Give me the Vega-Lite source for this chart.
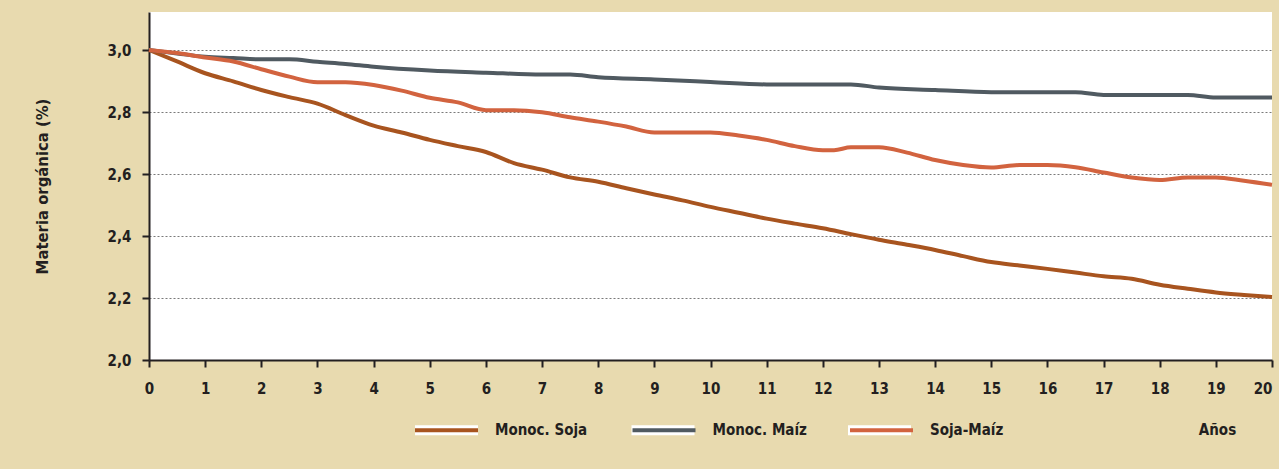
{
  "$schema": "https://vega.github.io/schema/vega-lite/v6.json",
  "autosize": {"type": "none"},
  "width": 1123,
  "height": 348,
  "padding": {"left": 149, "top": 12, "right": 7, "bottom": 109},
  "background": "#E8DAAF",
  "config": {
    "font": "DejaVu Sans Condensed",
    "view": {"fill": "white", "stroke": null},
    "axis": {
      "labelFont": "DejaVu Sans Condensed",
      "labelFontWeight": "bold",
      "labelFontSize": 15,
      "labelColor": "#231F20",
      "titleFont": "DejaVu Sans Condensed",
      "titleFontWeight": "bold",
      "titleColor": "#231F20",
      "domainColor": "#231F20",
      "domainWidth": 2,
      "tickColor": "#231F20",
      "tickWidth": 2,
      "tickSize": 7
    },
    "legend": {
      "labelFont": "DejaVu Sans Condensed",
      "labelFontWeight": "bold",
      "labelFontSize": 15,
      "labelColor": "#231F20"
    }
  },
  "data": {
    "values": [
      {"anio": 0, "serie": "Monoc. Soja", "mo": 3.0},
      {"anio": 0.5, "serie": "Monoc. Soja", "mo": 2.963},
      {"anio": 1, "serie": "Monoc. Soja", "mo": 2.925},
      {"anio": 1.5, "serie": "Monoc. Soja", "mo": 2.899},
      {"anio": 2, "serie": "Monoc. Soja", "mo": 2.871},
      {"anio": 2.5, "serie": "Monoc. Soja", "mo": 2.848},
      {"anio": 3, "serie": "Monoc. Soja", "mo": 2.827},
      {"anio": 3.5, "serie": "Monoc. Soja", "mo": 2.79},
      {"anio": 4, "serie": "Monoc. Soja", "mo": 2.756},
      {"anio": 4.5, "serie": "Monoc. Soja", "mo": 2.734},
      {"anio": 5, "serie": "Monoc. Soja", "mo": 2.71},
      {"anio": 5.5, "serie": "Monoc. Soja", "mo": 2.69},
      {"anio": 6, "serie": "Monoc. Soja", "mo": 2.671},
      {"anio": 6.5, "serie": "Monoc. Soja", "mo": 2.635},
      {"anio": 7, "serie": "Monoc. Soja", "mo": 2.614},
      {"anio": 7.5, "serie": "Monoc. Soja", "mo": 2.589},
      {"anio": 8, "serie": "Monoc. Soja", "mo": 2.575},
      {"anio": 8.5, "serie": "Monoc. Soja", "mo": 2.554},
      {"anio": 9, "serie": "Monoc. Soja", "mo": 2.534},
      {"anio": 9.5, "serie": "Monoc. Soja", "mo": 2.515},
      {"anio": 10, "serie": "Monoc. Soja", "mo": 2.494},
      {"anio": 10.5, "serie": "Monoc. Soja", "mo": 2.475},
      {"anio": 11, "serie": "Monoc. Soja", "mo": 2.456},
      {"anio": 11.5, "serie": "Monoc. Soja", "mo": 2.44},
      {"anio": 12, "serie": "Monoc. Soja", "mo": 2.425},
      {"anio": 12.5, "serie": "Monoc. Soja", "mo": 2.406},
      {"anio": 13, "serie": "Monoc. Soja", "mo": 2.388},
      {"anio": 13.5, "serie": "Monoc. Soja", "mo": 2.372},
      {"anio": 14, "serie": "Monoc. Soja", "mo": 2.355},
      {"anio": 14.5, "serie": "Monoc. Soja", "mo": 2.335},
      {"anio": 15, "serie": "Monoc. Soja", "mo": 2.316},
      {"anio": 15.5, "serie": "Monoc. Soja", "mo": 2.305},
      {"anio": 16, "serie": "Monoc. Soja", "mo": 2.294},
      {"anio": 16.5, "serie": "Monoc. Soja", "mo": 2.282},
      {"anio": 17, "serie": "Monoc. Soja", "mo": 2.27},
      {"anio": 17.5, "serie": "Monoc. Soja", "mo": 2.262},
      {"anio": 18, "serie": "Monoc. Soja", "mo": 2.243},
      {"anio": 18.5, "serie": "Monoc. Soja", "mo": 2.23},
      {"anio": 19, "serie": "Monoc. Soja", "mo": 2.218},
      {"anio": 19.5, "serie": "Monoc. Soja", "mo": 2.21},
      {"anio": 20, "serie": "Monoc. Soja", "mo": 2.203},

      {"anio": 0, "serie": "Monoc. Maíz", "mo": 3.0},
      {"anio": 0.5, "serie": "Monoc. Maíz", "mo": 2.989},
      {"anio": 1, "serie": "Monoc. Maíz", "mo": 2.978},
      {"anio": 1.5, "serie": "Monoc. Maíz", "mo": 2.974},
      {"anio": 2, "serie": "Monoc. Maíz", "mo": 2.97},
      {"anio": 2.5, "serie": "Monoc. Maíz", "mo": 2.97},
      {"anio": 3, "serie": "Monoc. Maíz", "mo": 2.962},
      {"anio": 3.5, "serie": "Monoc. Maíz", "mo": 2.955},
      {"anio": 4, "serie": "Monoc. Maíz", "mo": 2.946},
      {"anio": 5, "serie": "Monoc. Maíz", "mo": 2.934},
      {"anio": 6, "serie": "Monoc. Maíz", "mo": 2.927},
      {"anio": 7, "serie": "Monoc. Maíz", "mo": 2.921},
      {"anio": 7.5, "serie": "Monoc. Maíz", "mo": 2.921},
      {"anio": 8, "serie": "Monoc. Maíz", "mo": 2.912},
      {"anio": 9, "serie": "Monoc. Maíz", "mo": 2.905},
      {"anio": 10, "serie": "Monoc. Maíz", "mo": 2.897},
      {"anio": 11, "serie": "Monoc. Maíz", "mo": 2.889},
      {"anio": 12, "serie": "Monoc. Maíz", "mo": 2.889},
      {"anio": 12.5, "serie": "Monoc. Maíz", "mo": 2.889},
      {"anio": 13, "serie": "Monoc. Maíz", "mo": 2.879},
      {"anio": 14, "serie": "Monoc. Maíz", "mo": 2.871},
      {"anio": 15, "serie": "Monoc. Maíz", "mo": 2.864},
      {"anio": 16, "serie": "Monoc. Maíz", "mo": 2.864},
      {"anio": 16.5, "serie": "Monoc. Maíz", "mo": 2.864},
      {"anio": 17, "serie": "Monoc. Maíz", "mo": 2.855},
      {"anio": 18, "serie": "Monoc. Maíz", "mo": 2.855},
      {"anio": 18.5, "serie": "Monoc. Maíz", "mo": 2.855},
      {"anio": 19, "serie": "Monoc. Maíz", "mo": 2.847},
      {"anio": 20, "serie": "Monoc. Maíz", "mo": 2.847},

      {"anio": 0, "serie": "Soja-Maíz", "mo": 3.0},
      {"anio": 0.5, "serie": "Soja-Maíz", "mo": 2.99},
      {"anio": 1, "serie": "Soja-Maíz", "mo": 2.976},
      {"anio": 1.5, "serie": "Soja-Maíz", "mo": 2.963},
      {"anio": 2, "serie": "Soja-Maíz", "mo": 2.938},
      {"anio": 2.5, "serie": "Soja-Maíz", "mo": 2.914},
      {"anio": 3, "serie": "Soja-Maíz", "mo": 2.896},
      {"anio": 3.5, "serie": "Soja-Maíz", "mo": 2.896},
      {"anio": 4, "serie": "Soja-Maíz", "mo": 2.887},
      {"anio": 4.5, "serie": "Soja-Maíz", "mo": 2.869},
      {"anio": 5, "serie": "Soja-Maíz", "mo": 2.846},
      {"anio": 5.5, "serie": "Soja-Maíz", "mo": 2.831},
      {"anio": 6, "serie": "Soja-Maíz", "mo": 2.806},
      {"anio": 6.5, "serie": "Soja-Maíz", "mo": 2.806},
      {"anio": 7, "serie": "Soja-Maíz", "mo": 2.799},
      {"anio": 7.5, "serie": "Soja-Maíz", "mo": 2.783},
      {"anio": 8, "serie": "Soja-Maíz", "mo": 2.769},
      {"anio": 8.5, "serie": "Soja-Maíz", "mo": 2.753},
      {"anio": 9, "serie": "Soja-Maíz", "mo": 2.734},
      {"anio": 9.5, "serie": "Soja-Maíz", "mo": 2.734},
      {"anio": 10, "serie": "Soja-Maíz", "mo": 2.734},
      {"anio": 10.5, "serie": "Soja-Maíz", "mo": 2.724},
      {"anio": 11, "serie": "Soja-Maíz", "mo": 2.71},
      {"anio": 11.5, "serie": "Soja-Maíz", "mo": 2.69},
      {"anio": 12, "serie": "Soja-Maíz", "mo": 2.677},
      {"anio": 12.2, "serie": "Soja-Maíz", "mo": 2.677},
      {"anio": 12.5, "serie": "Soja-Maíz", "mo": 2.686},
      {"anio": 13, "serie": "Soja-Maíz", "mo": 2.686},
      {"anio": 13.5, "serie": "Soja-Maíz", "mo": 2.669},
      {"anio": 14, "serie": "Soja-Maíz", "mo": 2.645},
      {"anio": 14.5, "serie": "Soja-Maíz", "mo": 2.629},
      {"anio": 15, "serie": "Soja-Maíz", "mo": 2.621},
      {"anio": 15.5, "serie": "Soja-Maíz", "mo": 2.629},
      {"anio": 16, "serie": "Soja-Maíz", "mo": 2.629},
      {"anio": 16.5, "serie": "Soja-Maíz", "mo": 2.622},
      {"anio": 17, "serie": "Soja-Maíz", "mo": 2.605},
      {"anio": 17.5, "serie": "Soja-Maíz", "mo": 2.589},
      {"anio": 18, "serie": "Soja-Maíz", "mo": 2.581},
      {"anio": 18.5, "serie": "Soja-Maíz", "mo": 2.589},
      {"anio": 19, "serie": "Soja-Maíz", "mo": 2.589},
      {"anio": 19.5, "serie": "Soja-Maíz", "mo": 2.578},
      {"anio": 20, "serie": "Soja-Maíz", "mo": 2.565}
    ]
  },
  "encoding": {
    "x": {
      "field": "anio",
      "type": "quantitative",
      "scale": {"domain": [0, 20], "nice": false, "zero": false},
      "axis": {
        "title": "Años",
        "titleFontSize": 15,
        "titleX": 1068,
        "titleY": 69,
        "titleAlign": "center",
        "titleBaseline": "middle",
        "titleAnchor": null,
        "values": [0, 1, 2, 3, 4, 5, 6, 7, 8, 9, 10, 11, 12, 13, 14, 15, 16, 17, 18, 19, 20],
        "format": "d",
        "labelPadding": 14,
        "labelAlign": {"condition": {"test": "datum.value == 20", "value": "right"}, "value": "center"},
        "labelDx": {"condition": {"test": "datum.value == 20", "value": -3}, "value": 0},
        "labelBound": false,
        "labelOverlap": false,
        "grid": false
      }
    },
    "y": {
      "field": "mo",
      "type": "quantitative",
      "scale": {"domain": [2.0, 3.1226], "nice": false, "zero": false},
      "axis": {
        "title": "Materia orgánica (%)",
        "titleFontSize": 16.5,
        "titleAngle": -90,
        "titleX": -107,
        "titleY": 174,
        "titleAlign": "center",
        "titleBaseline": "middle",
        "titleAnchor": null,
        "values": [2.0, 2.2, 2.4, 2.6, 2.8, 3.0],
        "labelExpr": "replace(format(datum.value, '.1f'), '.', ',')",
        "labelPadding": 11,
        "grid": true,
        "gridColor": "#7A7A7A",
        "gridDash": [2, 2],
        "gridWidth": 1.2
      }
    }
  },
  "layer": [
    {
      "transform": [{"filter": "datum.anio < 0"}],
      "mark": {"type": "point", "filled": true, "opacity": 1},
      "encoding": {
        "fill": {
          "field": "serie",
          "type": "nominal",
          "scale": {
            "domain": ["Monoc. Soja", "Monoc. Maíz", "Soja-Maíz"],
            "range": ["white", "white", "white"]
          },
          "legend": {
            "title": null,
            "orient": "none",
            "direction": "horizontal",
            "legendX": 264,
            "legendY": 384.5,
            "padding": 0,
            "gridAlign": "all",
            "symbolType": "M-1,-0.1587H1V0.1587H-1Z",
            "symbolSize": 3969,
            "symbolStrokeColor": "transparent",
            "symbolStrokeWidth": 4,
            "symbolOpacity": 1,
            "labelOffset": 15,
            "labelExpr": "''",
            "columnPadding": 128.5
          }
        }
      }
    },
    {
      "mark": {"type": "line", "strokeWidth": 4, "interpolate": "monotone", "clip": false},
      "encoding": {
        "stroke": {
          "field": "serie",
          "type": "nominal",
          "sort": null,
          "scale": {
            "range": ["#A8541F", "#505A61", "#D2633F"]
          },
          "legend": {
            "title": null,
            "orient": "none",
            "direction": "horizontal",
            "legendX": 264,
            "legendY": 384.5,
            "padding": 0,
            "gridAlign": "all",
            "symbolType": "M-1,0H1",
            "symbolSize": 3969,
            "symbolStrokeWidth": 4,
            "symbolOpacity": 1,
            "labelOffset": 15,
            "columnPadding": 34.5
          }
        }
      }
    }
  ]
}
